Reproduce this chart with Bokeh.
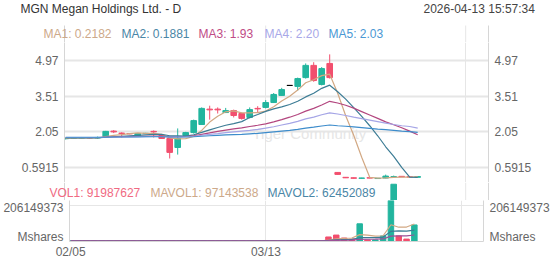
from bokeh.plotting import figure
from bokeh.models import Range1d, LinearAxis, FixedTicker, ColumnDataSource, Grid
from bokeh.core.properties import value
from bokeh.layouts import column
from bokeh.embed import file_html
from bokeh.resources import INLINE

FONT = "Liberation Sans"

# ---------------- data ----------------
opens = [1.77, 1.79, 1.80, 1.81, 1.80, 1.86, 2.08, 2.00, 1.98, 1.87,
         1.98, 2.07, 1.90, 1.78, 1.41, 1.90, 2.02, 2.35, 2.98, 2.98,
         2.84, 2.92, 2.80, 2.64, 3.01, 3.05, 3.25, 3.54, 3.95, 3.91,
         4.27, 4.77, 3.99, 4.85, 0.39, 0.19, 0.17, 0.15, 0.17, 0.14,
         0.16, 0.21, 0.23, 0.21, 0.19]
highs = [1.81, 1.83, 1.84, 1.83, 1.86, 2.09, 2.12, 2.03, 2.00, 2.00,
         2.01, 2.11, 1.94, 1.80, 2.19, 2.05, 2.55, 3.05, 3.12, 3.05,
         3.03, 2.96, 2.84, 3.05, 3.10, 3.35, 3.64, 3.85, 3.95, 4.27,
         4.85, 4.90, 4.70, 5.22, 0.40, 0.20, 0.18, 0.17, 0.18, 0.16,
         0.30, 0.26, 0.24, 0.22, 0.23]
lows = [1.74, 1.76, 1.78, 1.78, 1.76, 1.86, 2.00, 1.82, 1.95, 1.86,
        1.96, 1.82, 1.76, 0.96, 1.12, 1.88, 1.98, 2.33, 2.55, 2.80,
        2.82, 2.64, 2.55, 2.60, 2.85, 3.01, 3.23, 3.52, 3.95, 3.74,
        4.23, 4.10, 3.95, 4.23, 0.29, 0.16, 0.14, 0.14, 0.15, 0.13,
        0.15, 0.20, 0.20, 0.19, 0.18]
closes = [1.78, 1.80, 1.81, 1.80, 1.82, 2.07, 2.05, 1.98, 1.97, 1.98,
          1.99, 2.05, 1.78, 1.21, 1.78, 2.02, 2.51, 3.01, 2.95, 2.95,
          2.92, 2.72, 2.60, 2.96, 2.99, 3.25, 3.58, 3.78, 3.95, 4.23,
          4.77, 4.15, 4.64, 4.27, 0.31, 0.17, 0.15, 0.16, 0.16, 0.15,
          0.24, 0.22, 0.21, 0.20, 0.22]
volumes = [0.3e6, 0.2e6, 0.2e6, 0.3e6, 0.4e6, 0.9e6, 0.5e6, 0.4e6, 0.2e6, 0.3e6,
           0.2e6, 0.4e6, 0.5e6, 1.2e6, 1.0e6, 0.6e6, 1.1e6, 1.5e6, 0.9e6, 0.5e6,
           0.4e6, 0.5e6, 0.6e6, 0.7e6, 0.5e6, 0.8e6, 1.0e6, 0.9e6, 0.4e6, 0.8e6,
           1.3e6, 1.1e6, 0.9e6, 23e6, 34e6, 17e6, 11e6, 98.5e6, 6e6, 6e6,
           29e6, 325e6, 29e6, 11e6, 91987627]

ma1 = [1.78, 1.79, 1.79, 1.80, 1.80, 1.86, 1.91, 1.94, 1.98, 2.01,
       1.99, 1.99, 1.95, 1.80, 1.76, 1.77, 1.86, 2.11, 2.45, 2.69,
       2.87, 2.91, 2.83, 2.83, 2.84, 2.90, 3.08, 3.31, 3.51, 3.76,
       4.06, 4.18, 4.35, 4.41, 3.63, 2.71, 1.91, 1.01, 0.19, 0.16,
       0.17, 0.19, 0.20, 0.20, 0.2182]
ma2 = [1.80, 1.80, 1.80, 1.80, 1.80, 1.83, 1.85, 1.87, 1.89, 1.91,
       1.93, 1.95, 1.95, 1.89, 1.89, 1.88, 1.93, 2.03, 2.13, 2.23,
       2.32, 2.39, 2.47, 2.64, 2.76, 2.89, 2.99, 3.07, 3.17, 3.30,
       3.48, 3.63, 3.83, 3.96, 3.69, 3.39, 3.04, 2.68, 2.30, 1.89,
       1.44, 1.05, 0.60, 0.20, 0.1881]
ma3 = [1.82, 1.82, 1.82, 1.82, 1.82, 1.83, 1.84, 1.85, 1.86, 1.86,
       1.87, 1.88, 1.88, 1.85, 1.85, 1.86, 1.89, 1.95, 2.01, 2.07,
       2.12, 2.17, 2.21, 2.27, 2.32, 2.38, 2.46, 2.55, 2.65, 2.76,
       2.90, 3.01, 3.15, 3.30, 3.23, 3.14, 3.02, 2.88, 2.74, 2.60,
       2.46, 2.34, 2.22, 2.08, 1.93]
ma4 = [1.82, 1.82, 1.82, 1.82, 1.82, 1.83, 1.83, 1.84, 1.84, 1.85,
       1.85, 1.86, 1.86, 1.84, 1.84, 1.85, 1.87, 1.91, 1.95, 1.98,
       2.02, 2.05, 2.08, 2.11, 2.15, 2.20, 2.26, 2.33, 2.40, 2.48,
       2.58, 2.65, 2.75, 2.83, 2.78, 2.72, 2.65, 2.59, 2.53, 2.47,
       2.41, 2.35, 2.30, 2.27, 2.20]
ma5 = [1.83, 1.83, 1.83, 1.83, 1.83, 1.83, 1.84, 1.84, 1.84, 1.84,
       1.85, 1.85, 1.85, 1.84, 1.84, 1.84, 1.85, 1.87, 1.89, 1.91,
       1.93, 1.94, 1.95, 1.97, 1.99, 2.02, 2.05, 2.08, 2.11, 2.15,
       2.20, 2.24, 2.29, 2.33, 2.30, 2.28, 2.25, 2.22, 2.19, 2.16,
       2.14, 2.11, 2.08, 2.06, 2.03]

mavol1 = [0.3e6, 0.3e6, 0.3e6, 0.3e6, 0.3e6, 0.4e6, 0.46e6, 0.5e6, 0.48e6, 0.46e6,
          0.32e6, 0.3e6, 0.32e6, 0.52e6, 0.66e6, 0.74e6, 0.88e6, 1.08e6, 1.02e6, 0.92e6,
          0.88e6, 0.76e6, 0.58e6, 0.54e6, 0.54e6, 0.62e6, 0.72e6, 0.78e6, 0.72e6, 0.78e6,
          0.88e6, 0.90e6, 0.90e6, 5.42e6, 12.06e6, 15.2e6, 17.18e6, 36.7e6, 33.3e6, 27.7e6,
          30.1e6, 92.9e6, 79.0e6, 80.0e6, 97143538]
mavol2 = [0.4e6, 0.4e6, 0.4e6, 0.4e6, 0.4e6, 0.4e6, 0.4e6, 0.4e6, 0.4e6, 0.4e6,
          0.4e6, 0.4e6, 0.4e6, 0.5e6, 0.5e6, 0.5e6, 0.6e6, 0.7e6, 0.7e6, 0.7e6,
          0.7e6, 0.7e6, 0.7e6, 0.7e6, 0.7e6, 0.7e6, 0.7e6, 0.7e6, 0.6e6, 0.7e6,
          0.8e6, 0.8e6, 0.8e6, 3.07e6, 6.42e6, 8.04e6, 9.04e6, 18.8e6, 19.36e6, 19.88e6,
          22.65e6, 55.04e6, 57.85e6, 56.65e6, 62452089]
mavol3 = [0.5e6, 0.5e6, 0.5e6, 0.5e6, 0.5e6, 0.5e6, 0.5e6, 0.5e6, 0.5e6, 0.5e6,
          0.5e6, 0.5e6, 0.5e6, 0.5e6, 0.5e6, 0.5e6, 0.5e6, 0.6e6, 0.6e6, 0.6e6,
          0.6e6, 0.6e6, 0.6e6, 0.6e6, 0.6e6, 0.6e6, 0.7e6, 0.7e6, 0.7e6, 0.7e6,
          0.7e6, 0.7e6, 0.7e6, 1.93e6, 3.58e6, 4.40e6, 4.89e6, 9.74e6, 10.0e6, 10.27e6,
          11.7e6, 27.9e6, 29.3e6, 29.9e6, 34.4e6]

price_ticks = [0.5915, 2.05, 3.51, 4.97]
price_tick_labels = ["0.5915", "2.05", "3.51", "4.97"]
vol_tick = 206149373
x_ticks = [0, 25, 50]
x_tick_labels = ["02/05", "03/13", ""]

title_text = "MGN Megan Holdings Ltd. - D"
time_text = "2026-04-13  15:57:34"
ma_names = ["MA1", "MA2", "MA3", "MA4", "MA5"]
ma_values = ["0.2182", "0.1881", "1.93", "2.20", "2.03"]
vol_legend = [("VOL1", "91987627"), ("MAVOL1", "97143538"), ("MAVOL2", "62452089")]

# ---------------- styles / layout ----------------
UP, DOWN, FLAT = "#22b59e", "#f24f6e", "#000000"
MA_COLORS = ["#d2a883", "#3c7c95", "#b3467f", "#a5a5e6", "#3d8ccb"]
MA_TEXT = ["#cda98a", "#4a86a6", "#c04c86", "#a8a8e8", "#4a98d4"]
VOL_TEXT = ["#f06a82", "#cda98a", "#4a86a6"]
MAVOL_COLORS = ["#d2a883", "#3c7c95", "#9c4f98"]
AXIS_GRAY = "#d6d6d6"
GRID_GRAY = "#e6e6e6"
LABEL_GRAY = "#666666"

W = 552
BORDER = 64
X0, X1 = -0.15, 52.85
unit_px = (W - 2 * BORDER) / (X1 - X0)
ext = BORDER / unit_px
XF0 = X0 - ext


def px_to_x(px):
    """canvas pixel column -> x value (same mapping in every panel)"""
    return XF0 + px / unit_px


n = len(closes)
idx = list(range(n))
colors = [UP if c > o else (DOWN if c < o else FLAT) for o, c in zip(opens, closes)]
src = ColumnDataSource(dict(
    x=idx, o=opens, h=highs, l=lows, c=closes,
    top=[max(o, c) for o, c in zip(opens, closes)],
    bottom=[min(o, c) for o, c in zip(opens, closes)],
    color=colors, vol=volumes,
    ma1=ma1, ma2=ma2, ma3=ma3, ma4=ma4, ma5=ma5,
    mv1=mavol1, mv2=mavol2, mv3=mavol3,
))

x_range = Range1d(X0, X1)
x_range_full = Range1d(XF0, X1 + ext)
vline_x = [X0] + x_ticks[1:] + [X1]
vline_c = [AXIS_GRAY] + [GRID_GRAY] * (len(x_ticks) - 1) + [AXIS_GRAY]


def style_axis(ax, ticks, labels, standoff=6):
    ax.ticker = FixedTicker(ticks=ticks)
    ax.major_label_overrides = {t: s for t, s in zip(ticks, labels)}
    ax.axis_line_color = AXIS_GRAY
    ax.major_tick_line_color = None
    ax.minor_tick_line_color = None
    ax.major_tick_out = 0
    ax.major_tick_in = 0
    ax.major_label_standoff = standoff
    ax.major_label_text_font = FONT
    ax.major_label_text_font_size = "12px"
    ax.major_label_text_color = LABEL_GRAY


def band_figure(height, y_range):
    f = figure(width=W, height=height, x_range=x_range_full, y_range=y_range,
               output_backend="svg", toolbar_location=None,
               x_axis_location=None, y_axis_location=None,
               min_border=0, min_border_left=0, min_border_right=0,
               min_border_top=0, min_border_bottom=0, frame_align=False)
    f.outline_line_color = None
    f.grid.visible = False
    return f


def texts(fig, xs_px, y, strings, cols, size="12px"):
    fig.text(x=[px_to_x(v) for v in xs_px], y=[y] * len(strings), text=strings,
             text_color=cols, text_font=value(FONT), text_font_size=size,
             text_baseline="middle", text_align="left")


# ---------------- header band (title + MA legend) ----------------
HH = 42
ph = band_figure(HH, Range1d(HH, 0))
ph.segment(x0=vline_x, x1=vline_x, y0=[25] * len(vline_x), y1=[HH] * len(vline_x),
           line_color=vline_c, line_width=1)
texts(ph, [20], 8, [title_text], ["#333333"])
texts(ph, [423], 8, [time_text], ["#444444"])
texts(ph, [43, 121, 198, 264, 328], 33,
      ["%s: %s" % (nm, v) for nm, v in zip(ma_names, ma_values)], MA_TEXT)

# ---------------- price panel ----------------
p_per_px = (4.97 - 0.5915) / 107.0
p_top = 4.97 + (60 - HH) * p_per_px
PH = 140
p_bot = p_top - PH * p_per_px

p1 = figure(width=W, height=PH, x_range=x_range, y_range=Range1d(p_bot, p_top),
            output_backend="svg", toolbar_location=None,
            x_axis_location=None, y_axis_location="left", frame_align=False,
            min_border_left=BORDER, min_border_right=BORDER, min_border_top=0, min_border_bottom=0)
p1.outline_line_color = None
style_axis(p1.yaxis[0], price_ticks, price_tick_labels)
rax = LinearAxis()
style_axis(rax, price_ticks, price_tick_labels)
p1.add_layout(rax, "right")
for g in p1.ygrid:
    g.ticker = FixedTicker(ticks=price_ticks)
    g.grid_line_color = GRID_GRAY
    g.grid_line_width = 2
for g in list(p1.xgrid):
    g.visible = False
p1.add_layout(Grid(dimension=0, ticker=FixedTicker(ticks=x_ticks[1:]),
                   grid_line_color=GRID_GRAY, grid_line_width=1))

# faint watermark, behind the marks
p1.text(x=[px_to_x(252)], y=[4.97 - (133 - 60) * p_per_px],
        text=["Tiger Community"], text_color="#e6e6e6", text_font=value(FONT),
        text_font_size="15px", text_baseline="middle", level="underlay")

p1.segment(x0="x", y0="l", x1="x", y1="h", line_color="color", line_width=1, source=src)
p1.vbar(x="x", width=0.7, top="top", bottom="bottom", fill_color="color",
        line_color="color", line_width=1, source=src)
for k, col in enumerate(MA_COLORS):
    p1.line(x="x", y="ma%d" % (k + 1), line_color=col, line_width=1.2, source=src)

# ---------------- volume scale ----------------
vol_per_px = vol_tick / 36.0
vol_lo = -0.5 * vol_per_px
VH_FRAME = 41
vol_mid = vol_lo + VH_FRAME * vol_per_px
BH = 18
vol_top = vol_mid + BH * vol_per_px
unit_tick = vol_lo + 5 * vol_per_px

# ---------------- volume legend band ----------------
pb = band_figure(BH, Range1d(vol_mid, vol_top))
pb.segment(x0=vline_x, x1=vline_x, y0=[vol_mid] * len(vline_x), y1=[vol_top] * len(vline_x),
           line_color=vline_c, line_width=1)
pb.vbar(x="x", width=0.7, top="vol", bottom=0, fill_color="color", line_color="color",
        source=src)
texts(pb, [49, 150, 267], vol_mid + 8 * vol_per_px,
      ["%s: %s" % (nm, v) for nm, v in vol_legend], VOL_TEXT)

# ---------------- volume panel ----------------
p2 = figure(width=W, height=VH_FRAME + 24, x_range=x_range, y_range=Range1d(vol_lo, vol_mid),
            output_backend="svg", toolbar_location=None,
            x_axis_location="below", y_axis_location="left", frame_align=False,
            min_border_left=BORDER, min_border_right=BORDER, min_border_top=0, min_border_bottom=24)
p2.outline_line_color = None
style_axis(p2.yaxis[0], [unit_tick, vol_tick], ["Mshares", str(vol_tick)])
rax2 = LinearAxis()
style_axis(rax2, [unit_tick, vol_tick], ["Mshares", str(vol_tick)])
p2.add_layout(rax2, "right")
style_axis(p2.xaxis[0], x_ticks, x_tick_labels, standoff=3)
for g in p2.ygrid:
    g.ticker = FixedTicker(ticks=[vol_tick])
    g.grid_line_color = GRID_GRAY
    g.grid_line_width = 1
for g in p2.xgrid:
    g.ticker = FixedTicker(ticks=x_ticks[1:])
    g.grid_line_color = GRID_GRAY
    g.grid_line_width = 1

p2.vbar(x="x", width=0.7, top="vol", bottom=0, fill_color="color", line_color="color",
        source=src)
for k, col in enumerate(MAVOL_COLORS):
    p2.line(x="x", y="mv%d" % (k + 1), line_color=col, line_width=1.2, source=src)

layout = column(ph, p1, pb, p2, spacing=0)
open("out.html", "w").write(file_html(layout, INLINE))
